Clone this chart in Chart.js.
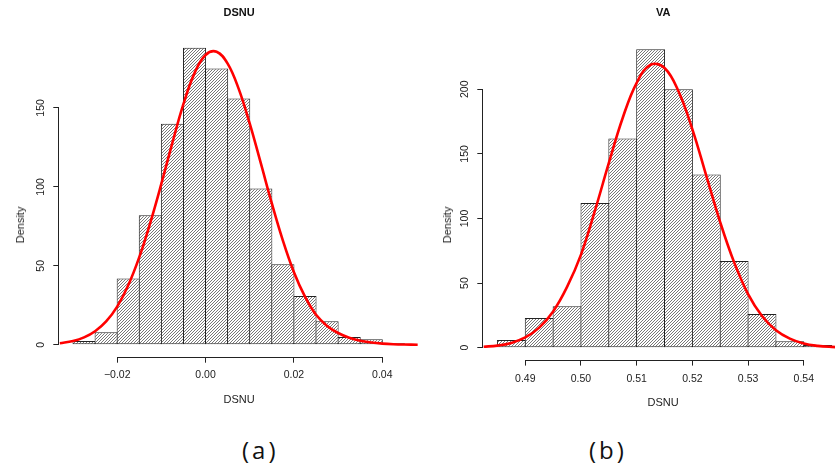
<!DOCTYPE html>
<html>
<head>
<meta charset="utf-8">
<script src="https://cdn.jsdelivr.net/npm/chart.js@4.4.1/dist/chart.umd.min.js"></script>
<style>
  html, body { margin: 0; padding: 0; background: #fff; width: 835px; height: 463px; overflow: hidden; position: relative; }
  canvas { position: absolute; top: 0; }
  #dsnuChart { left: 0; }
  #vaChart { left: 420px; }
  .ylab { position: absolute; top: 225px; font: 11px "Liberation Sans", Arial, sans-serif; color: #222;
          transform: translate(-50%, -50%) rotate(-90deg); white-space: nowrap; }
  .cap { position: absolute; top: 438px; font: 24px/1 "Open Sans", sans-serif; letter-spacing: 3px; color: #111; }
</style>
</head>
<body>
<canvas id="dsnuChart" width="419" height="420"></canvas>
<canvas id="vaChart" width="423" height="420"></canvas>
<div class="ylab" style="left:20px">Density</div>
<div class="ylab" style="left:447px">Density</div>
<div class="cap" style="left:242px">(a)</div>
<div class="cap" style="left:589px">(b)</div>
<script>
/* histogramas DSNU e VA com curva de densidade */

const COLOR_RED = "#ff0000";
const COLOR_EDGE = "#222222";
const COLOR_TEXT = "#222222";
const FONT = '"Liberation Sans", Arial, sans-serif';

// DSNU
const dsnuBreaks = [-0.03, -0.025, -0.02, -0.015, -0.01, -0.005, 0, 0.005, 0.01, 0.015, 0.02, 0.025, 0.03, 0.035, 0.04, 0.045];
const dsnuDensity = [2.5, 8, 42, 82, 140, 188, 175, 156, 99, 51, 31, 15, 5, 3.5, 1];
const dsnuCurveX = [-0.033, -0.03, -0.0275, -0.025, -0.0225, -0.02, -0.0175, -0.015, -0.0125, -0.01, -0.0075, -0.005, -0.0025, 0,
  0.0025, 0.005, 0.0075, 0.01, 0.0125, 0.015, 0.0175, 0.02, 0.0225, 0.025, 0.0275, 0.03, 0.0325, 0.035, 0.0375, 0.04, 0.0425, 0.045, 0.048];
const dsnuCurveY = [1.0, 2.4, 4.7, 8.6, 14.8, 24.2, 37.7, 55.5, 77.4, 102, 128, 152.5, 172, 183.5,
  185.5, 178, 162, 140, 115, 89.5, 66, 46, 30.5, 19, 12, 7.5, 4.5, 2.6, 1.5, 0.8, 0.4, 0.2, 0.1];
const dsnuXTicks = [-0.02, 0, 0.02, 0.04];
const dsnuXLabels = ['\u22120.02', '0.00', '0.02', '0.04'];
const dsnuYTicks = [0, 50, 100, 150];

// VA
const vaBreaks = [0.485, 0.49, 0.495, 0.5, 0.505, 0.51, 0.515, 0.52, 0.525, 0.53, 0.535, 0.54, 0.545];
const vaDensity = [6, 23, 32, 112, 162, 231, 200, 134, 67, 26, 5, 2];
const vaCurveX = [0.4825, 0.485, 0.4875, 0.49, 0.4925, 0.495, 0.4975, 0.5, 0.5025, 0.505, 0.5075, 0.51, 0.5125,
  0.515, 0.5175, 0.52, 0.5225, 0.525, 0.5275, 0.53, 0.5325, 0.535, 0.5375, 0.54, 0.5425, 0.545, 0.5475];
const vaCurveY = [0.7, 1.6, 3.7, 7.9, 15.5, 28, 47, 72, 106, 143, 178, 205, 219,
  216.5, 198.5, 169, 133, 97, 66, 41.5, 24.5, 13.5, 7, 3.2, 1.4, 0.6, 0.25];
const vaXTicks = [0.49, 0.5, 0.51, 0.52, 0.53, 0.54];
const vaXLabels = ['0.49', '0.50', '0.51', '0.52', '0.53', '0.54'];
const vaYTicks = [0, 50, 100, 150, 200];

// hachura diagonal "/"
function makeHatch() {
  const c = document.createElement('canvas');
  c.width = 3; c.height = 3;
  const g = c.getContext('2d');
  g.fillStyle = '#fff'; g.fillRect(0, 0, 3, 3);
  g.fillStyle = '#777';
  for (let i = 0; i < 3; i++) g.fillRect(i, 2 - i, 1, 1);
  return g.createPattern(c, 'repeat');
}
const hatch = makeHatch();

// eixos estilo R: linha só entre o primeiro e o último tick
const rAxes = {
  id: 'rAxes',
  afterDraw(chart) {
    const {ctx, scales: {x, y}} = chart;
    const a = v => Math.round(v - 0.5) + 0.5;
    const xt = x.ticks, yt = y.ticks;
    ctx.save();
    ctx.strokeStyle = COLOR_EDGE;
    ctx.lineWidth = 1;
    ctx.beginPath();
    const by = Math.round(x.top) + 0.5;
    ctx.moveTo(a(x.getPixelForValue(xt[0].value)), by);
    ctx.lineTo(a(x.getPixelForValue(xt[xt.length - 1].value)), by);
    const lx = Math.round(y.right) - 0.5;
    ctx.moveTo(lx, a(y.getPixelForValue(yt[0].value)));
    ctx.lineTo(lx, a(y.getPixelForValue(yt[yt.length - 1].value)));
    ctx.stroke();
    ctx.restore();
  }
};

function histChart(id, d) {
  const centers = d.density.map((_, i) => (d.breaks[i] + d.breaks[i + 1]) / 2);
  return new Chart(document.getElementById(id), {
    type: 'bar',
    data: {
      datasets: [
        {
          type: 'line',
          data: d.curveX.map((x, i) => ({x: x, y: d.curveY[i]})),
          borderColor: COLOR_RED, borderWidth: 2.6, pointRadius: 0, tension: 0.4, order: 0
        },
        {
          type: 'bar',
          data: centers.map((x, i) => ({x: x, y: d.density[i]})),
          backgroundColor: hatch, borderColor: COLOR_EDGE, borderWidth: 1, borderSkipped: false,
          barPercentage: d.barPct, categoryPercentage: 1, order: 1
        }
      ]
    },
    options: {
      responsive: false,
      animation: false,
      layout: { padding: 0 },
      plugins: {
        legend: { display: false },
        tooltip: { enabled: false },
        title: {
          display: true, text: d.title, fullSize: false, color: '#111',
          font: { family: FONT, size: 11, weight: 'bold' },
          padding: { top: d.titleTop, bottom: d.titleBottom }
        }
      },
      scales: {
        x: {
          type: 'linear', min: d.xMin, max: d.xMax, offset: false,
          afterBuildTicks: s => { s.ticks = d.xTicks.map(v => ({value: v})); },
          afterFit: s => { s.height = d.xHeight; },
          grid: { drawOnChartArea: false, offset: false, tickLength: 6, color: COLOR_EDGE },
          border: { display: false },
          ticks: { autoSkip: false, maxRotation: 0, padding: d.xPad, color: COLOR_TEXT,
                   font: { family: FONT, size: 10.5 }, callback: (v, i) => d.xLabels[i] },
          title: { display: true, text: 'DSNU', color: COLOR_TEXT, font: { family: FONT, size: 11 },
                   padding: { top: 0, bottom: d.xTitlePad } }
        },
        y: {
          type: 'linear', min: d.yMin, max: d.yMax,
          afterBuildTicks: s => { s.ticks = d.yTicks.map(v => ({value: v})); },
          afterFit: s => { s.width = d.yWidth; },
          grid: { drawOnChartArea: false, tickLength: 6, color: COLOR_EDGE },
          border: { display: false },
          ticks: { minRotation: 90, maxRotation: 90, crossAlign: 'center', padding: d.yPad, color: COLOR_TEXT,
                   font: { family: FONT, size: 10.5 }, callback: v => String(v) }
        }
      }
    },
    plugins: [rAxes]
  });
}

histChart('dsnuChart', {
  title: 'DSNU', breaks: dsnuBreaks, density: dsnuDensity, curveX: dsnuCurveX, curveY: dsnuCurveY,
  xTicks: dsnuXTicks, xLabels: dsnuXLabels, yTicks: dsnuYTicks,
  xMin: -0.0331, xMax: 0.0483, yMin: -7.5, yMax: 195.5,
  barPct: 1.045, titleTop: 6, titleBottom: 16.8, xHeight: 63.3, xPad: 6, xTitlePad: 13.4, yWidth: 59.3, yPad: 3
});

histChart('vaChart', {
  title: 'VA', breaks: vaBreaks, density: vaDensity, curveX: vaCurveX, curveY: vaCurveY,
  xTicks: vaXTicks, xLabels: vaXLabels, yTicks: vaYTicks,
  xMin: 0.48246, xMax: 0.54704, yMin: -9.24, yMax: 240.24,
  barPct: 1.036, titleTop: 6.4, titleBottom: 17.7, xHeight: 60.4, xPad: 7, xTitlePad: 10.4, yWidth: 63.3, yPad: 3.8
});
</script>
</body>
</html>
